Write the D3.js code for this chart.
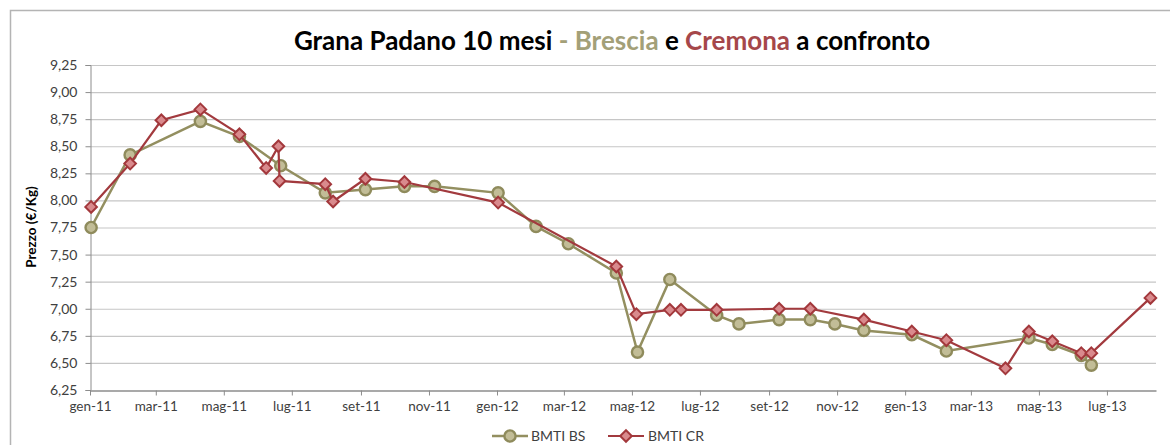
<!DOCTYPE html>
<html>
<head>
<meta charset="utf-8">
<script src="https://cdn.jsdelivr.net/npm/d3@7"></script>
<style>
  body { margin: 0; background: #fff; }
  svg { display: block; font-family: Lato, "Open Sans", sans-serif; }
</style>
</head>
<body>
<div id="chart"></div>
<script>
// Grana Padano 10 mesi - prezzi BMTI Brescia e Cremona (€/Kg)

const bsDates = ["2011-01-02", "2011-02-06", "2011-04-10", "2011-05-15", "2011-06-21", "2011-07-31",
  "2011-09-05", "2011-10-10", "2011-11-06", "2012-01-02", "2012-02-05", "2012-03-05",
  "2012-04-17", "2012-05-06", "2012-06-04", "2012-07-16", "2012-08-05", "2012-09-10",
  "2012-10-08", "2012-10-30", "2012-11-25", "2013-01-07", "2013-02-07", "2013-04-22",
  "2013-05-13", "2013-06-08", "2013-06-17"];
const bsValues = [7.75, 8.42, 8.73, 8.59, 8.32, 8.07,
  8.10, 8.13, 8.13, 8.07, 7.76, 7.60,
  7.33, 6.60, 7.27, 6.94, 6.86, 6.90,
  6.90, 6.86, 6.80, 6.76, 6.61, 6.73,
  6.67, 6.57, 6.48];

const crDates = ["2011-01-02", "2011-02-06", "2011-03-06", "2011-04-10", "2011-05-15", "2011-06-08",
  "2011-06-19", "2011-06-20", "2011-07-31", "2011-08-07", "2011-09-05", "2011-10-10",
  "2012-01-02", "2012-04-17", "2012-05-05", "2012-06-04", "2012-06-14", "2012-07-16",
  "2012-09-10", "2012-10-08", "2012-11-25", "2013-01-07", "2013-02-07", "2013-04-01",
  "2013-04-22", "2013-05-13", "2013-06-08", "2013-06-17", "2013-08-09"];
const crValues = [7.94, 8.34, 8.74, 8.84, 8.61, 8.30,
  8.50, 8.18, 8.15, 7.99, 8.20, 8.17,
  7.98, 7.39, 6.95, 6.99, 6.99, 6.99,
  7.00, 7.00, 6.90, 6.79, 6.71, 6.45,
  6.79, 6.70, 6.59, 6.59, 7.10];

const yTicks = [6.25, 6.50, 6.75, 7.00, 7.25, 7.50, 7.75, 8.00, 8.25, 8.50, 8.75, 9.00, 9.25];
const xDomain = ["2011-01-01", "2013-08-14"];
const seriesNames = ["BMTI BS", "BMTI CR"];

const W = 1170, H = 445;
const plot = { left: 90, right: 1156, top: 65, bottom: 390 };

const itLocale = d3.formatLocale({ decimal: ",", thousands: ".", grouping: [3], currency: ["€", ""] });
const itTime = d3.timeFormatLocale({
  dateTime: "%A %e %B %Y, %X", date: "%d/%m/%Y", time: "%H:%M:%S",
  periods: ["AM", "PM"],
  days: ["domenica", "lunedì", "martedì", "mercoledì", "giovedì", "venerdì", "sabato"],
  shortDays: ["dom", "lun", "mar", "mer", "gio", "ven", "sab"],
  months: ["gennaio", "febbraio", "marzo", "aprile", "maggio", "giugno", "luglio", "agosto", "settembre", "ottobre", "novembre", "dicembre"],
  shortMonths: ["gen", "feb", "mar", "apr", "mag", "giu", "lug", "ago", "set", "ott", "nov", "dic"]
});
const parse = d3.timeParse("%Y-%m-%d");

const bs = bsDates.map((d, i) => ({ date: parse(d), value: bsValues[i] }));
const cr = crDates.map((d, i) => ({ date: parse(d), value: crValues[i] }));

const x = d3.scaleTime().domain(xDomain.map(parse)).range([plot.left, plot.right]);
const y = d3.scaleLinear().domain([6.25, 9.25]).range([plot.bottom, plot.top]);

const svg = d3.select("#chart").append("svg").attr("width", W).attr("height", H);

// bordo esterno
svg.append("path")
  .attr("d", `M10.5,${H + 5} V10.5 H${W + 5}`)
  .attr("fill", "none").attr("stroke", "#b4b4b4").attr("stroke-width", 1.5);

// titolo
const title = svg.append("text")
  .attr("x", 612).attr("y", 50)
  .attr("text-anchor", "middle")
  .attr("font-size", 26).attr("font-weight", "bold").attr("fill", "#000");
title.append("tspan").text("Grana Padano 10 mesi ");
title.append("tspan").attr("fill", "#a3a078").text("- Brescia");
title.append("tspan").text(" e ");
title.append("tspan").attr("fill", "#a5474a").text("Cremona");
title.append("tspan").text(" a confronto");

// griglia
svg.append("g").selectAll("line")
  .data(yTicks.filter(t => t > 6.25))
  .join("line")
  .attr("x1", plot.left).attr("x2", plot.right)
  .attr("y1", d => y(d) + 0.5).attr("y2", d => y(d) + 0.5)
  .attr("stroke", "#c6c6c6").attr("stroke-width", 1.2);

// asse y
const yAxis = svg.append("g")
  .attr("transform", `translate(${plot.left + 0.5},0)`)
  .call(d3.axisLeft(y).tickValues(yTicks).tickFormat(itLocale.format(".2f")).tickSize(5).tickPadding(8));
yAxis.select(".domain").attr("stroke", "#8c8c8c");
yAxis.selectAll(".tick line").attr("stroke", "#8c8c8c");
yAxis.selectAll(".tick text").attr("font-size", 14).attr("fill", "#404040")
  .attr("font-family", "Lato, sans-serif");

// asse x
const xAxis = svg.append("g")
  .attr("transform", `translate(0,${plot.bottom + 0.5})`)
  .call(d3.axisBottom(x).ticks(d3.timeMonth.every(2)).tickFormat(itTime.format("%b-%y")).tickSize(5).tickSizeOuter(0).tickPadding(6));
xAxis.select(".domain").attr("stroke", "#8c8c8c").attr("stroke-width", 1.5);
xAxis.selectAll(".tick line").attr("stroke", "#8c8c8c");
xAxis.selectAll(".tick text").attr("font-size", 13.5).attr("fill", "#404040")
  .attr("font-family", "Lato, sans-serif");

// etichetta asse y
svg.append("text")
  .attr("transform", "translate(36,227) rotate(-90)")
  .attr("text-anchor", "middle")
  .attr("font-size", 13.5).attr("font-weight", "bold").attr("fill", "#000")
  .text("Prezzo (€/Kg)");

const line = d3.line().x(d => x(d.date)).y(d => y(d.value));
const diamond = s => `M0,${-s} L${s},0 L0,${s} L${-s},0 Z`;

const bsStyle = { line: "#938f60", fill: "#c2bd97", stroke: "#8f8b5c" };
const crStyle = { line: "#a23a3e", fill: "#d98a8d", stroke: "#a3383c" };

// serie Brescia
svg.append("path").datum(bs)
  .attr("d", line).attr("fill", "none")
  .attr("stroke", bsStyle.line).attr("stroke-width", 2.5);
svg.append("g").selectAll("circle").data(bs).join("circle")
  .attr("cx", d => x(d.date)).attr("cy", d => y(d.value)).attr("r", 5.6)
  .attr("fill", bsStyle.fill).attr("stroke", bsStyle.stroke).attr("stroke-width", 2.4);

// serie Cremona
svg.append("path").datum(cr)
  .attr("d", line).attr("fill", "none")
  .attr("stroke", crStyle.line).attr("stroke-width", 2.2);
svg.append("g").selectAll("path").data(cr).join("path")
  .attr("transform", d => `translate(${x(d.date)},${y(d.value)})`)
  .attr("d", diamond(5.8))
  .attr("fill", crStyle.fill).attr("stroke", crStyle.stroke).attr("stroke-width", 2);

// legenda
const legend = svg.append("g").attr("transform", "translate(0,436)");
const lg1 = legend.append("g");
lg1.append("line").attr("x1", 492).attr("x2", 528).attr("stroke", bsStyle.line).attr("stroke-width", 2.5);
lg1.append("circle").attr("cx", 510).attr("r", 5.6)
  .attr("fill", bsStyle.fill).attr("stroke", bsStyle.stroke).attr("stroke-width", 2.4);
lg1.append("text").attr("x", 531).attr("y", 5).attr("font-size", 14).attr("fill", "#404040").text(seriesNames[0]);

const lg2 = legend.append("g");
lg2.append("line").attr("x1", 608).attr("x2", 644).attr("stroke", crStyle.line).attr("stroke-width", 2.2);
lg2.append("path").attr("transform", "translate(626,0)").attr("d", diamond(5.8))
  .attr("fill", crStyle.fill).attr("stroke", crStyle.stroke).attr("stroke-width", 2);
lg2.append("text").attr("x", 648).attr("y", 5).attr("font-size", 14).attr("fill", "#404040").text(seriesNames[1]);
</script>
</body>
</html>
